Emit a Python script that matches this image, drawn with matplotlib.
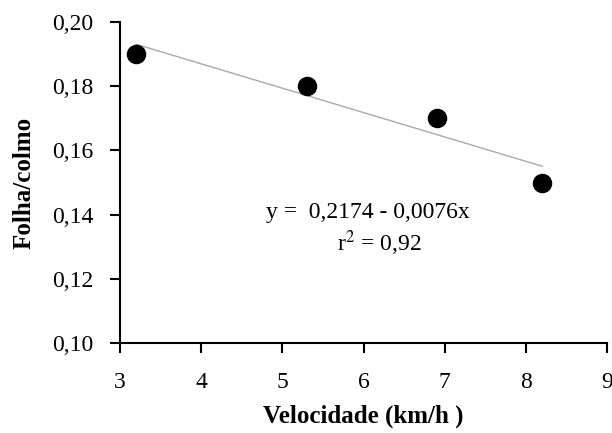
import matplotlib.pyplot as plt
import numpy as np

velocidade = [3.2, 5.3, 6.9, 8.2]
folha_colmo = [0.19, 0.18, 0.17, 0.15]
a, b = 0.2174, -0.0076

plt.rcParams['font.family'] = ['Liberation Serif', 'DejaVu Serif']
plt.rcParams['mathtext.fontset'] = 'stix'

fig = plt.figure(figsize=(6.12, 4.33), dpi=100)
ax = fig.add_axes([0.196, 0.208, 0.796, 0.741])

xl = np.array([min(velocidade), max(velocidade)])
ax.plot(xl, a + b * xl, color='#aaaaaa', lw=1)
ax.scatter(velocidade, folha_colmo, s=170, color='black', zorder=3)

ax.set_xlim(3, 9)
ax.set_ylim(0.10, 0.20)
ax.set_xticks(range(3, 10))
ax.set_yticks(np.arange(0.10, 0.201, 0.02))
ax.set_yticklabels([f'{v:.2f}'.replace('.', ',') for v in np.arange(0.10, 0.201, 0.02)])
ax.tick_params(labelsize=17, length=7, width=1.5)
ax.tick_params(axis='x', pad=14)
ax.tick_params(axis='y', pad=12)
for s in ['top', 'right']:
    ax.spines[s].set_visible(False)
for s in ['left', 'bottom']:
    ax.spines[s].set_linewidth(1.5)

ax.text(6.05, 0.1405, 'y =  0,2174 - 0,0076x', fontsize=17, ha='center', va='center')
ax.text(6.2, 0.1310, 'r$^2$ = 0,92', fontsize=17, ha='center', va='center')

ax.set_xlabel('Velocidade (km/h )', fontsize=18, fontweight='bold', labelpad=8)
ax.set_ylabel('Folha/colmo', fontsize=18, fontweight='bold', labelpad=12)

fig.savefig('out.png', dpi=100)
